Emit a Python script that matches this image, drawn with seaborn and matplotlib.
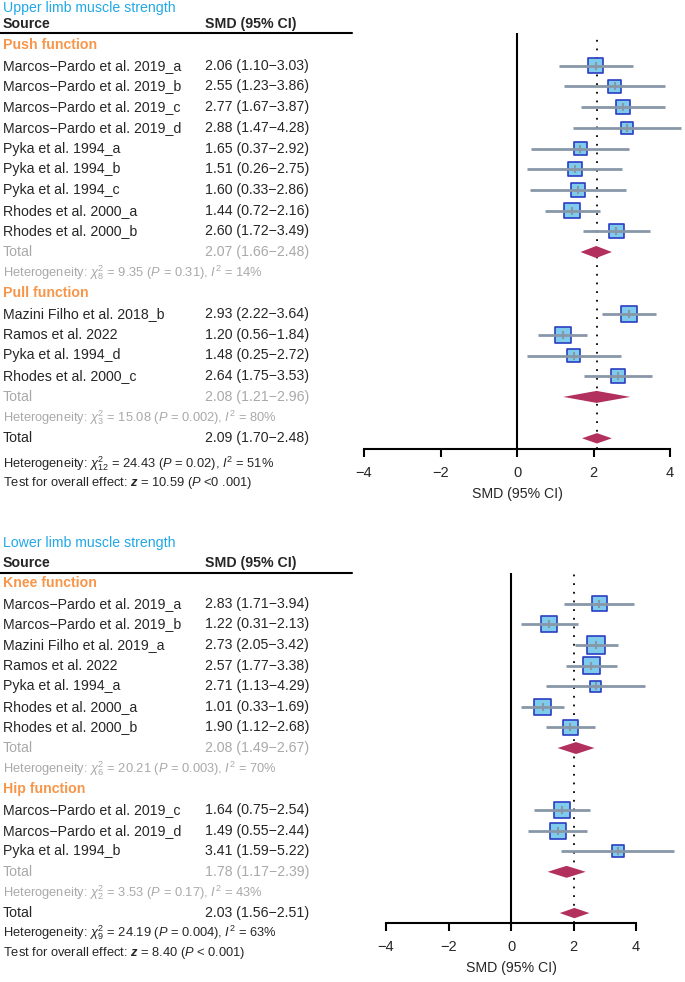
import numpy as np
import pandas as pd
import matplotlib
matplotlib.use("Agg")
import matplotlib.pyplot as plt
import matplotlib.transforms as mtransforms
import seaborn as sns

# ---- upper limb data ----
push_names = ["Marcos\u2212Pardo et al. 2019_a", "Marcos\u2212Pardo et al. 2019_b", "Marcos\u2212Pardo et al. 2019_c",
              "Marcos\u2212Pardo et al. 2019_d", "Pyka et al. 1994_a", "Pyka et al. 1994_b", "Pyka et al. 1994_c",
              "Rhodes et al. 2000_a", "Rhodes et al. 2000_b"]
push_smd = [2.06, 2.55, 2.77, 2.88, 1.65, 1.51, 1.60, 1.44, 2.60]
push_lo = [1.10, 1.23, 1.67, 1.47, 0.37, 0.26, 0.33, 0.72, 1.72]
push_hi = [3.03, 3.86, 3.87, 4.28, 2.92, 2.75, 2.86, 2.16, 3.49]
push_wt = [12.2, 8.7, 10.6, 7.8, 8.7, 9.6, 9.6, 12.2, 10.6]
push_total = [2.07, 1.66, 2.48]
push_het = r"Heterogeneity: $\chi^2_8$ = 9.35 ($P$ = 0.31), $I^2$ = 14%"

pull_names = ["Mazini Filho et al. 2018_b", "Ramos et al. 2022", "Pyka et al. 1994_d", "Rhodes et al. 2000_c"]
pull_smd = [2.93, 1.20, 1.48, 2.64]
pull_lo = [2.22, 0.56, 0.25, 1.75]
pull_hi = [3.64, 1.84, 2.72, 3.53]
pull_wt = [13.8, 13.8, 7.8, 10.6]
pull_total = [2.08, 1.21, 2.96]
pull_het = r"Heterogeneity: $\chi^2_3$ = 15.08 ($P$ = 0.002), $I^2$ = 80%"

upper_total = [2.09, 1.70, 2.48]
upper_het = r"Heterogeneity: $\chi^2_{12}$ = 24.43 ($P$ = 0.02), $I^2$ = 51%"
upper_test = r"Test for overall effect: $\mathbfit{z}$ = 10.59 ($P$ <0 .001)"

# ---- lower limb data ----
knee_names = ["Marcos\u2212Pardo et al. 2019_a", "Marcos\u2212Pardo et al. 2019_b", "Mazini Filho et al. 2019_a",
              "Ramos et al. 2022", "Pyka et al. 1994_a", "Rhodes et al. 2000_a", "Rhodes et al. 2000_b"]
knee_smd = [2.83, 1.22, 2.73, 2.57, 2.71, 1.01, 1.90]
knee_lo = [1.71, 0.31, 2.05, 1.77, 1.13, 0.33, 1.12]
knee_hi = [3.94, 2.13, 3.42, 3.38, 4.29, 1.69, 2.68]
knee_wt = [11.0, 13.8, 17.0, 15.6, 6.5, 13.8, 12.2]
knee_total = [2.08, 1.49, 2.67]
knee_het = r"Heterogeneity: $\chi^2_6$ = 20.21 ($P$ = 0.003), $I^2$ = 70%"

hip_names = ["Marcos\u2212Pardo et al. 2019_c", "Marcos\u2212Pardo et al. 2019_d", "Pyka et al. 1994_b"]
hip_smd = [1.64, 1.49, 3.41]
hip_lo = [0.75, 0.55, 1.59]
hip_hi = [2.54, 2.44, 5.22]
hip_wt = [13.8, 13.3, 7.4]
hip_total = [1.78, 1.17, 2.39]
hip_het = r"Heterogeneity: $\chi^2_2$ = 3.53 ($P$ = 0.17), $I^2$ = 43%"

lower_total = [2.03, 1.56, 2.51]
lower_het = r"Heterogeneity: $\chi^2_9$ = 24.19 ($P$ = 0.004), $I^2$ = 63%"
lower_test = r"Test for overall effect: $\mathbfit{z}$ = 8.40 ($P$ < 0.001)"

sns.set_theme(style="white")
plt.rcParams["font.family"] = ["Liberation Sans", "DejaVu Sans"]
plt.rcParams["mathtext.fontset"] = "custom"
plt.rcParams["mathtext.rm"] = "Liberation Sans"
plt.rcParams["mathtext.it"] = "Liberation Sans:italic"
plt.rcParams["mathtext.bf"] = "Liberation Sans:bold"
plt.rcParams["mathtext.bfit"] = "Liberation Sans:bold:italic"

W, H = 685, 982
fig = plt.figure(figsize=(W / 100, H / 100), dpi=100)

CYAN = "#22a8e6"
ORANGE = "#f7964a"
GRAY = "#a9a9a9"
BOX = "#7fcbec"
BOXEDGE = "#2b3dc2"
CILINE = "#8797a8"
DIAMOND = "#b2305e"
FS = 10.2
FS_SMALL = 9.3


def fmt(est, lo, hi):
    return f"{est:.2f} ({lo:.2f}\u2212{hi:.2f})"


def diamond(ax, est, lo, hi, y, h):
    ax.fill([lo, est, hi, est], [y, y - h, y, y + h], color=DIAMOND, lw=0,
            zorder=3, clip_on=False)


def draw_panel(title, groups, overall, het_all, test_all, px):
    y0, dy = px["y0"], px["dy"]
    to_row = lambda p: (p - y0) / dy
    left = px["xm4"] / W
    width = (px["xp4"] - px["xm4"]) / W
    bottom = 1 - px["bot"] / H
    height = (px["bot"] - px["top"]) / H
    ax = fig.add_axes([left, bottom, width, height])
    ax.set_xlim(-4, 4)
    ax.set_ylim(to_row(px["bot"]), to_row(px["top"]))
    tr = mtransforms.blended_transform_factory(fig.transFigure, ax.transData)
    xn, xs = 3 / W, 205 / W

    fig.text(xn, to_row(px["title"]), title, transform=tr, color=CYAN, fontsize=FS, va="center")
    fig.text(xn, to_row(px["head"]), "Source", transform=tr, fontsize=FS, fontweight="bold", va="center")
    fig.text(xs, to_row(px["head"]), "SMD (95% CI)", transform=tr, fontsize=FS, fontweight="bold", va="center")
    fig.add_artist(plt.Line2D([0, 352 / W], [1 - px["top"] / H] * 2, color="black", lw=1.5,
                              transform=fig.transFigure))

    row = 0
    frames = []
    for gname, names, smd, lo, hi, wt, tot, het in groups:
        fig.text(xn, row, gname, transform=tr, color=ORANGE, fontsize=FS, fontweight="bold", va="center")
        row += 1
        rows = list(range(row, row + len(names)))
        for r, n, e, l, h in zip(rows, names, smd, lo, hi):
            fig.text(xn, r, n, transform=tr, fontsize=FS, va="center")
            fig.text(xs, r, fmt(e, l, h), transform=tr, fontsize=FS, va="center")
        frames.append(pd.DataFrame({"row": rows, "smd": smd, "lo": lo, "hi": hi, "wt": wt}))
        row += len(names)
        fig.text(xn, row, "Total", transform=tr, color=GRAY, fontsize=FS, va="center")
        fig.text(xs, row, fmt(*tot), transform=tr, color=GRAY, fontsize=FS, va="center")
        diamond(ax, tot[0], tot[1], tot[2], row, 0.29)
        row += 1
        fig.text(xn, row, het, transform=tr, color=GRAY, fontsize=FS_SMALL, va="center")
        row += 1

    fig.text(xn, row, "Total", transform=tr, fontsize=FS, va="center")
    fig.text(xs, row, fmt(*overall), transform=tr, fontsize=FS, va="center")
    diamond(ax, overall[0], overall[1], overall[2], row, 0.25)
    fig.text(xn, to_row(px["het"]), het_all, transform=tr, fontsize=FS_SMALL, va="center")
    fig.text(xn, to_row(px["test"]), test_all, transform=tr, fontsize=FS_SMALL, va="center")

    df = pd.concat(frames, ignore_index=True)
    # box side in px ~ sqrt(weight)
    side_pt = 4.4 * np.sqrt(df["wt"]) * 0.72
    ax.axvline(overall[0], color="black", lw=1.3, ls=(0, (1, 3.8)), zorder=1)
    ax.axvline(0, color="black", lw=1.5, zorder=1)
    sns.scatterplot(data=df, x="smd", y="row", marker="s", s=side_pt ** 2, color=BOX,
                    edgecolor=BOXEDGE, linewidth=1.2, zorder=2, ax=ax, legend=False, clip_on=False)
    ax.hlines(df["row"], df["lo"], df["hi"], color=CILINE, lw=2, zorder=3, clip_on=False)
    ax.scatter(df["smd"], df["row"], marker="|", s=40, color=CILINE, lw=1.5, zorder=4, clip_on=False)

    ax.set_ylim(to_row(px["bot"]), to_row(px["top"]))
    ax.set_yticks([])
    ax.set_ylabel("")
    ax.set_xticks([-4, -2, 0, 2, 4])
    ax.set_xlabel("SMD (95% CI)", fontsize=FS, labelpad=5)
    for s in ["left", "top", "right"]:
        ax.spines[s].set_visible(False)
    ax.spines["bottom"].set_linewidth(1.5)
    ax.spines["bottom"].set_color("black")
    ax.tick_params(axis="x", direction="out", length=6, width=1.5, pad=6, labelsize=FS + 0.3,
                   bottom=True, color="black")
    ax.patch.set_alpha(0)
    return ax


draw_panel("Upper limb muscle strength",
           [("Push function", push_names, push_smd, push_lo, push_hi, push_wt, push_total, push_het),
            ("Pull function", pull_names, pull_smd, pull_lo, pull_hi, pull_wt, pull_total, pull_het)],
           upper_total, upper_het, upper_test,
           dict(y0=45, dy=20.7, top=33, bot=449, xm4=364, xp4=670, title=8, head=24, het=464, test=483))

draw_panel("Lower limb muscle strength",
           [("Knee function", knee_names, knee_smd, knee_lo, knee_hi, knee_wt, knee_total, knee_het),
            ("Hip function", hip_names, hip_smd, hip_lo, hip_hi, hip_wt, hip_total, hip_het)],
           lower_total, lower_het, lower_test,
           dict(y0=583, dy=20.63, top=573, bot=923, xm4=386, xp4=636, title=543, head=563, het=933, test=953))

fig.savefig("out.png", dpi=100)
